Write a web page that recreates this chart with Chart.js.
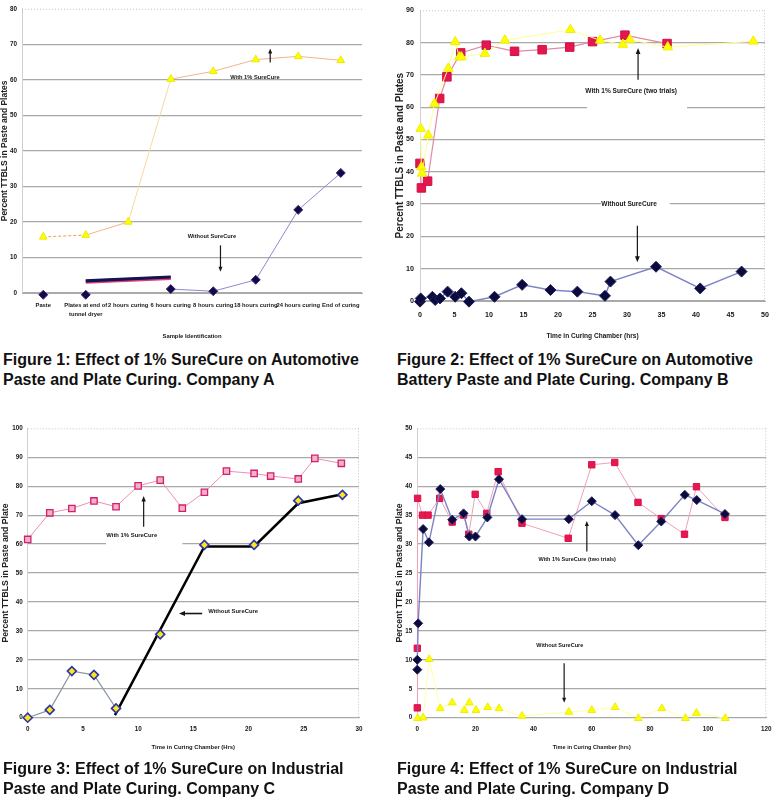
<!DOCTYPE html>
<html><head><meta charset="utf-8">
<script src="https://cdn.jsdelivr.net/npm/chart.js@4/dist/chart.umd.min.js"></script>
<style>
html,body{margin:0;padding:0;background:#fff}
body{width:779px;height:800px;position:relative;overflow:hidden}
canvas{position:absolute}
.cap{position:absolute;font-family:"Liberation Sans",Arial,Helvetica,sans-serif;font-weight:bold;font-size:16px;line-height:20px;color:#111;white-space:nowrap}
</style></head><body>
<canvas id="c1" width="390" height="345" style="left:0;top:0"></canvas>
<canvas id="c2" width="389" height="345" style="left:390px;top:0"></canvas>
<canvas id="c3" width="390" height="345" style="left:0;top:415px"></canvas>
<canvas id="c4" width="389" height="345" style="left:390px;top:415px"></canvas>
<div class="cap" style="left:3px;top:350px">Figure 1: Effect of 1% SureCure on Automotive<br>Paste and Plate Curing. Company A</div>
<div class="cap" style="left:397px;top:350px">Figure 2: Effect of 1% SureCure on Automotive<br>Battery Paste and Plate Curing. Company B</div>
<div class="cap" style="left:3px;top:759px">Figure 3: Effect of 1% SureCure on Industrial<br>Paste and Plate Curing. Company C</div>
<div class="cap" style="left:397px;top:759px">Figure 4: Effect of 1% SureCure on Industrial<br>Paste and Plate Curing. Company D</div>
<script>
// ---------- DATA ----------
// Figure 1 (Company A)
const fig1Categories = ['Paste', ['Plates at end of', 'tunnel dryer'], '2 hours curing', '6 hours curing', '8 hours curing', '18 hours curing', '24 hours curing', 'End of curing'];
const fig1WithSureCure = [15.8, 16.3, 20.0, 60.2, 62.4, 65.7, 66.6, 65.5];
const fig1WithoutSureCure = [-0.5, -0.5, null, 1.1, 0.5, 3.7, 23.4, 33.8];
const fig1Bar = [null, 3.4, null, 4.5, null, null, null, null];

// Figure 2 (Company B)
const fig2HoursTrialA = [0, 0.2, 1.1, 2.85, 3.9, 5.9, 9.6, 13.7, 17.7, 21.7, 25, 29.7, 35.8];
const fig2TtblsTrialA = [42.6, 35, 37.1, 62.7, 69.4, 76.8, 79.2, 77.3, 77.8, 78.6, 80.3, 82.3, 79.7];
const fig2HoursTrialB = [0.1, 0.2, 0.3, 1.2, 2.1, 4.1, 5.1, 5.7, 6.0, 9.4, 12.3, 21.8, 26.1, 29.4, 30.4, 35.9, 48.3];
const fig2TtblsTrialB = [53.4, 41.5, 39.5, 51.3, 61.1, 72, 80.2, 75.5, 75.5, 76.6, 80.7, 84, 80.7, 79.4, 80.9, 78.6, 80.4];
const fig2HoursWithout = [0, 0.1, 1.8, 2.2, 2.9, 4.0, 5.1, 6.0, 7.1, 10.8, 14.8, 18.9, 22.8, 26.8, 27.6, 34.2, 40.6, 46.6];
const fig2TtblsWithout = [-0.2, 0.8, 1.3, 0.3, 0.8, 2.9, 1.3, 2.4, -0.2, 1.3, 5, 3.4, 2.9, 1.6, 6, 10.6, 3.9, 9.1];

// Figure 3 (Company C)
const fig3HoursWith = [0, 2, 4, 6, 8, 10, 12, 14, 16, 18, 20.5, 22, 24.5, 26, 28.4];
const fig3TtblsWith = [61.6, 70.8, 72.3, 74.9, 72.9, 80.1, 82.1, 72.4, 77.9, 85.2, 84.4, 83.5, 82.5, 89.6, 87.9];
const fig3HoursWithout = [0, 2, 4, 6, 8, 12, 16, 20.5, 24.5, 28.5];
const fig3TtblsWithout = [0, 2.7, 16.1, 14.8, 3.2, 28.8, 59.7, 59.7, 75, 77];
const fig3TrendHours = [7.9, 16, 20.5, 24.5, 28.5];
const fig3TrendTtbls = [0.9, 59.2, 59.2, 74.1, 77.2];

// Figure 4 (Company D)
const fig4HoursTrialA = [0, 0, 0.1, 1.8, 3.7, 7.7, 12.0, 15.9, 17.7, 19.9, 23.9, 27.8, 36.0, 51.9, 60.0, 67.9, 75.9, 83.9, 91.9, 96.0, 105.8];
const fig4TtblsTrialA = [1.7, 12, 37.9, 35, 35, 37.9, 33.8, 35, 31.7, 38.6, 35.3, 42.5, 33.6, 31.0, 43.7, 44.1, 37.2, 34.4, 31.7, 39.9, 34.6];
const fig4HoursTrialB = [0, 0, 0.3, 2.0, 4.0, 7.9, 12.0, 15.9, 17.9, 20.0, 24.1, 28.1, 36.0, 52.1, 60.0, 68.0, 76.0, 83.9, 92.0, 96.1, 105.8];
const fig4TtblsTrialB = [8.3, 10, 16.3, 32.6, 30.3, 39.5, 34.2, 35.3, 31.3, 31.3, 34.6, 41.2, 34.3, 34.3, 37.4, 35, 29.8, 33.9, 38.5, 37.6, 35.2];
const fig4HoursWithout = [0.1, 2.0, 4.1, 7.9, 12.0, 16.2, 17.9, 20.2, 24.2, 28.1, 36, 52.1, 60, 68, 76, 84.1, 92.2, 96, 105.9];
const fig4TtblsWithout = [-0.1, 0, 10.1, 1.6, 2.6, 1.3, 2.6, 1.3, 1.8, 1.6, 0.3, 1, 1.3, 1.8, -0.1, 1.6, -0.1, 0.8, -0.1];

// ---------- FONTS ----------
const probe = document.createElement('canvas').getContext('2d');
function textW(f) { probe.font = f; return probe.measureText('Plates at end of tunnel dryer 0123').width; }
const hasNarrow = Math.abs(textW('bold 20px "Liberation Sans Narrow", monospace') - textW('bold 20px monospace')) > 1;
const NARROW = hasNarrow ? '"Liberation Sans Narrow","Liberation Sans",sans-serif' : '"Liberation Sans",Arial,sans-serif';
const NW = 'bold';
const NS = hasNarrow ? 1 : 0.84;
const WIDE = '"Liberation Sans",Arial,Helvetica,sans-serif';
const nf = (size, lh) => ({family: NARROW, size: +(size * NS).toFixed(2), weight: NW, lineHeight: lh || 1.2});

// ---------- HELPERS ----------
const pts = (xs, ys) => xs.map((x, i) => ({x: x, y: ys[i]}));
const GRID = '#a9a9a9';
const INK = '#161616';

const notesPlugin = {
  id: 'notes',
  beforeDatasetsDraw(chart, args, o) {
    const {ctx, chartArea: a, scales: {x, y}} = chart;
    ctx.save();
    ctx.strokeStyle = '#c4c4c4'; ctx.lineWidth = 1; ctx.setLineDash([1, 2]);
    ctx.beginPath();
    ctx.moveTo(a.left, a.top + 0.5); ctx.lineTo(a.right, a.top + 0.5);
    if (o.rightEdge) { ctx.moveTo(a.right - 0.5, a.top); ctx.lineTo(a.right - 0.5, a.bottom); }
    ctx.stroke(); ctx.setLineDash([]);
    ctx.fillStyle = '#fff';
    (o.boxes || []).forEach(b => {
      const x1 = x.getPixelForValue(b.x1), x2 = x.getPixelForValue(b.x2);
      const y1 = y.getPixelForValue(b.y1), y2 = y.getPixelForValue(b.y2);
      ctx.fillRect(Math.min(x1, x2), Math.min(y1, y2), Math.abs(x2 - x1), Math.abs(y2 - y1));
    });
    ctx.restore();
  },
  afterDatasetsDraw(chart, args, o) {
    const {ctx, scales: {x, y}} = chart;
    ctx.save();
    (o.arrows || []).forEach(ar => {
      const x1 = x.getPixelForValue(ar.x1), y1 = y.getPixelForValue(ar.y1);
      const x2 = x.getPixelForValue(ar.x2), y2 = y.getPixelForValue(ar.y2);
      ctx.strokeStyle = INK; ctx.fillStyle = INK; ctx.lineWidth = ar.w || 1.2;
      const ang = Math.atan2(y2 - y1, x2 - x1), hl = ar.head || 6;
      ctx.beginPath(); ctx.moveTo(x1, y1);
      ctx.lineTo(x2 - Math.cos(ang) * hl * 0.7, y2 - Math.sin(ang) * hl * 0.7); ctx.stroke();
      ctx.beginPath(); ctx.moveTo(x2, y2);
      ctx.lineTo(x2 - hl * Math.cos(ang) + hl * 0.4 * Math.sin(ang), y2 - hl * Math.sin(ang) - hl * 0.4 * Math.cos(ang));
      ctx.lineTo(x2 - hl * Math.cos(ang) - hl * 0.4 * Math.sin(ang), y2 - hl * Math.sin(ang) + hl * 0.4 * Math.cos(ang));
      ctx.closePath(); ctx.fill();
    });
    (o.labels || []).forEach(l => {
      ctx.font = NW + ' ' + (l.size * NS).toFixed(2) + 'px ' + NARROW;
      ctx.fillStyle = INK; ctx.textAlign = 'center'; ctx.textBaseline = 'middle';
      ctx.fillText(l.text, x.getPixelForValue(l.x), y.getPixelForValue(l.y));
    });
    ctx.restore();
  }
};

function yScale(p) {
  return {
    min: p.min, max: p.max,
    afterFit(s) { s.width = p.width; },
    ticks: {stepSize: p.step, autoSkip: false, padding: p.tickPad, color: INK, font: nf(p.tickSize)},
    grid: {drawTicks: false, lineWidth: 1.2, color: c => (c.tick && c.tick.value === p.max) ? 'rgba(0,0,0,0)' : GRID},
    border: {display: true, color: '#d0d0d0', width: 1},
    title: {display: true, text: p.title, color: '#222', padding: {top: p.titlePad, bottom: 0},
            font: {family: WIDE, size: p.titleSize, weight: 'bold'}}
  };
}
function xTitle(p) {
  return {display: true, text: p.title, color: INK, padding: {top: 0, bottom: p.titlePad}, font: nf(p.titleSize)};
}
function baseOptions(pad, xs, ys, notes) {
  return {
    responsive: false, animation: false, events: [],
    layout: {padding: {left: 0, top: pad.top, right: pad.right, bottom: 0}},
    plugins: {legend: {display: false}, tooltip: {enabled: false}, notes: notes},
    scales: {x: xs, y: ys}
  };
}
Chart.register(notesPlugin);

// ---------- FIGURE 1 ----------
new Chart(document.getElementById('c1'), {
  type: 'line',
  data: {
    labels: fig1Categories,
    datasets: [
      {data: fig1WithSureCure, borderColor: '#f3b48a', borderWidth: 1, clip: false,
       segment: {borderDash: c => c.p0DataIndex === 0 ? [3, 2] : undefined,
                 borderColor: c => c.p0DataIndex === 0 ? '#f0a040' : (c.p0DataIndex === 2 ? '#f8d8a0' : '#f3b48a')},
       pointStyle: 'triangle', pointRadius: 4.5, pointBackgroundColor: '#ffff00', pointBorderColor: '#ecea00', pointBorderWidth: 1},
      {data: fig1WithoutSureCure, borderColor: '#8a8ad0', borderWidth: 1, clip: false, spanGaps: false,
       segment: {borderColor: c => c.p0DataIndex < 1 ? 'rgba(0,0,0,0)' : '#8a8ad0'},
       pointStyle: 'rectRot', pointRadius: 4.5, pointBackgroundColor: '#0c0c4a', pointBorderColor: '#50206a', pointBorderWidth: 1},
      {data: fig1Bar, spanGaps: true, borderColor: '#141450', borderWidth: 3.2, pointRadius: 0, clip: false},
      {data: fig1Bar.map(v => v === null ? null : v - 0.25), spanGaps: true, borderColor: '#e0407a', borderWidth: 4, pointRadius: 0, clip: false}
    ]
  },
  options: baseOptions({top: 7, right: 28},
    {type: 'category', offset: true,
     afterFit(s) { s.height = 52; },
     ticks: {autoSkip: false, maxRotation: 0, minRotation: 0, padding: 8.5, color: INK, font: nf(6.9, 1.5)},
     grid: {display: false, drawTicks: false}, border: {display: true, color: GRID},
     title: xTitle({title: 'Sample Identification', titleSize: 7, titlePad: 5.5})},
    yScale({min: 0, max: 80, step: 10, width: 22, tickPad: 5, tickSize: 7.5,
            title: 'Percent TTBLS in Paste and Plates', titleSize: 8.5, titlePad: 0}),
    {rightEdge: false,
     labels: [{text: 'With 1% SureCure', x: 4.98, y: 60.8, size: 6.8},
              {text: 'Without SureCure', x: 3.97, y: 16.0, size: 6.8}],
     arrows: [{x1: 5.34, y1: 64.9, x2: 5.34, y2: 68.8, head: 5},
              {x1: 4.17, y1: 13.4, x2: 4.17, y2: 6.0, head: 5}]})
});

// ---------- FIGURE 2 ----------
new Chart(document.getElementById('c2'), {
  type: 'line',
  data: {
    datasets: [
      {data: pts(fig2HoursTrialB, fig2TtblsTrialB), borderColor: '#ffff90', borderWidth: 1, clip: false,
       pointStyle: 'triangle', pointRadius: 5.5, pointBackgroundColor: '#ffff00', pointBorderColor: '#eeee00', pointBorderWidth: 1},
      {data: pts(fig2HoursTrialA, fig2TtblsTrialA), borderColor: '#e08aa8', borderWidth: 1.2, clip: false,
       pointStyle: 'rect', pointRadius: 6, pointBackgroundColor: '#e4164e', pointBorderColor: '#d01048', pointBorderWidth: 1},
      {data: pts(fig2HoursWithout, fig2TtblsWithout), borderColor: '#7e84c8', borderWidth: 1.5, clip: false,
       pointStyle: 'rectRot', pointRadius: 5.5, pointBackgroundColor: '#0a0a3e', pointBorderColor: '#20205a', pointBorderWidth: 1}
    ]
  },
  options: baseOptions({top: 8, right: 8},
    {type: 'linear', min: 0, max: 50,
     afterFit(s) { s.height = 44; },
     ticks: {stepSize: 5, autoSkip: false, maxRotation: 0, padding: 10, color: INK, font: nf(8.5)},
     grid: {display: false, drawTicks: false}, border: {display: true, color: GRID},
     title: xTitle({title: 'Time in Curing Chamber (hrs)', titleSize: 7.8, titlePad: 4.5})},
    yScale({min: 0, max: 90, step: 10, width: 30, tickPad: 6, tickSize: 8.5,
            title: 'Percent TTBLS in Paste and Plates', titleSize: 10, titlePad: 4}),
    {rightEdge: true,
     boxes: [{x1: 24.2, x2: 38.7, y1: 58.6, y2: 61.4}, {x1: 26.2, x2: 36.2, y1: 28.6, y2: 31.4}],
     labels: [{text: 'With 1% SureCure (two trials)', x: 30.6, y: 64.8, size: 7.8},
              {text: 'Without SureCure', x: 30.3, y: 30.1, size: 7.8}],
     arrows: [{x1: 31.6, y1: 68.5, x2: 31.6, y2: 78.3, head: 6},
              {x1: 31.5, y1: 23.3, x2: 31.5, y2: 12.0, head: 6}]})
});

// ---------- FIGURE 3 ----------
new Chart(document.getElementById('c3'), {
  type: 'line',
  data: {
    datasets: [
      {data: pts(fig3HoursWith, fig3TtblsWith), borderColor: '#f08cb4', borderWidth: 1, clip: false,
       pointStyle: 'rect', pointRadius: 4.5, pointBackgroundColor: '#f5b0cc', pointBorderColor: '#d0206a', pointBorderWidth: 1.3},
      {data: pts(fig3HoursWithout, fig3TtblsWithout), showLine: false, clip: false,
       pointStyle: 'rectRot', pointRadius: 4.5, pointBackgroundColor: '#ffe41a', pointBorderColor: '#2a36a8', pointBorderWidth: 1.6},
      {data: pts(fig3HoursWithout.slice(0, 5), fig3TtblsWithout.slice(0, 5)), borderColor: '#8c98a6', borderWidth: 1.2, pointRadius: 0, clip: false},
      {data: pts(fig3TrendHours, fig3TrendTtbls), borderColor: '#000', borderWidth: 2.5, pointRadius: 0, clip: false}
    ]
  },
  options: baseOptions({top: 13.3, right: 31},
    {type: 'linear', min: 0, max: 30,
     afterFit(s) { s.height = 42.3; },
     ticks: {stepSize: 5, autoSkip: false, maxRotation: 0, padding: 7.5, color: INK, font: nf(7.5)},
     grid: {display: false, drawTicks: false}, border: {display: true, color: GRID},
     title: xTitle({title: 'Time in Curing Chamber (Hrs)', titleSize: 7, titlePad: 9.5})},
    yScale({min: 0, max: 100, step: 10, width: 27.7, tickPad: 5, tickSize: 7.5,
            title: 'Percent TTBLS in Paste and Plate', titleSize: 8.7, titlePad: 0}),
    {rightEdge: true,
     boxes: [{x1: 7.1, x2: 14.0, y1: 58.6, y2: 61.4}],
     labels: [{text: 'With 1% SureCure', x: 9.42, y: 62.9, size: 7},
              {text: 'Without SureCure', x: 18.6, y: 36.6, size: 7}],
     arrows: [{x1: 10.5, y1: 66, x2: 10.5, y2: 76.6, head: 5.5},
              {x1: 15.8, y1: 36.0, x2: 13.7, y2: 36.0, head: 6, w: 1.6}]})
});

// ---------- FIGURE 4 ----------
new Chart(document.getElementById('c4'), {
  type: 'line',
  data: {
    datasets: [
      {data: pts(fig4HoursWithout, fig4TtblsWithout), borderColor: '#ffffa8', borderWidth: 1, clip: false,
       pointStyle: 'triangle', pointRadius: 4.5, pointBackgroundColor: '#ffff00', pointBorderColor: '#eeee00', pointBorderWidth: 1},
      {data: pts(fig4HoursTrialB, fig4TtblsTrialB), borderColor: '#7c82c4', borderWidth: 1.4, clip: false,
       pointStyle: 'rectRot', pointRadius: 4.5, pointBackgroundColor: '#0a0a3e', pointBorderColor: '#20205a', pointBorderWidth: 1},
      {data: pts(fig4HoursTrialA, fig4TtblsTrialA), borderColor: '#f0a0b8', borderWidth: 1, clip: false,
       pointStyle: 'rect', pointRadius: 4.5, pointBackgroundColor: '#e8184f', pointBorderColor: '#d8104a', pointBorderWidth: 1}
    ]
  },
  options: baseOptions({top: 13.3, right: 8.3},
    {type: 'linear', min: 0, max: 120,
     afterFit(s) { s.height = 42.3; },
     ticks: {stepSize: 20, autoSkip: false, maxRotation: 0, padding: 7.5, color: INK, font: nf(7.5)},
     grid: {display: false, drawTicks: false}, border: {display: true, color: GRID},
     title: xTitle({title: 'Time in Curing Chamber (hrs)', titleSize: 6.6, titlePad: 9.5})},
    yScale({min: 0, max: 50, step: 5, width: 27.3, tickPad: 5, tickSize: 7.5,
            title: 'Percent TTBLS in Paste and Plate', titleSize: 8.7, titlePad: 4}),
    {rightEdge: true,
     labels: [{text: 'With 1% SureCure (two trials)', x: 55.0, y: 27.4, size: 6.6},
              {text: 'Without SureCure', x: 49.0, y: 12.4, size: 6.6}],
     arrows: [{x1: 58.3, y1: 28.7, x2: 58.3, y2: 34.0, head: 5},
              {x1: 50.5, y1: 9.4, x2: 50.5, y2: 2.6, head: 5}]})
});
</script>
</body></html>
